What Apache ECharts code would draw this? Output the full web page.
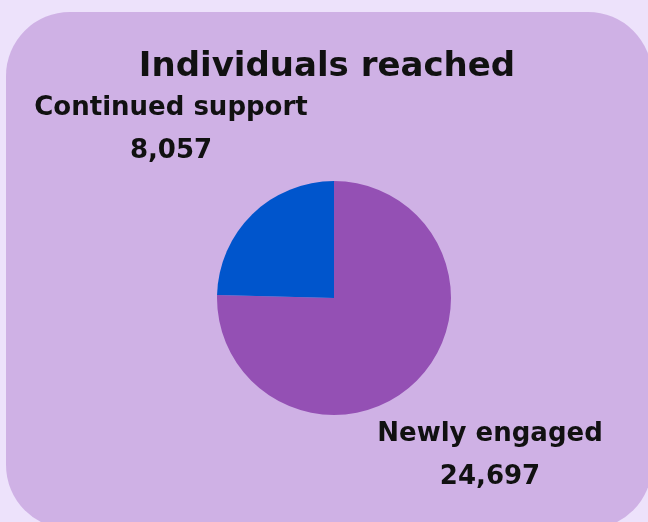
<!DOCTYPE html>
<html>
<head>
<meta charset="utf-8">
<script src="https://cdn.jsdelivr.net/npm/echarts@6/dist/echarts.min.js"></script>
<style>html,body{margin:0;padding:0;background:#ede2fb;}#c{width:648px;height:522px;}</style>
</head>
<body>
<div id="c"></div>
<script>
var titleText = 'Individuals reached';
var categories = ['Newly engaged', 'Continued support'];
var values = [24697, 8057];
var colors = ['#9450b4', '#0055cc'];
var labelPos = [[490, 456], [171, 130]];

function fmt(n) { return String(n).replace(/\B(?=(\d{3})+(?!\d))/g, ','); }

var chart = echarts.init(document.getElementById('c'), null, {renderer: 'canvas'});
chart.setOption({
  backgroundColor: '#ede2fb',
  animation: false,
  graphic: [{
    type: 'rect', z: -10, silent: true,
    shape: {x: 6, y: 12, width: 646, height: 517, r: 64},
    style: {fill: '#cfb1e5'}
  }],
  title: {
    text: titleText, left: 322, top: 45, textAlign: 'center',
    textStyle: {fontFamily: 'DejaVu Sans', fontWeight: 'bold', fontSize: 34, color: '#111'}
  },
  series: [{
    type: 'pie',
    center: [334, 298],
    radius: 117,
    startAngle: 90,
    clockwise: true,
    data: categories.map(function (c, i) { return {name: c, value: values[i], itemStyle: {color: colors[i]}}; }),
    label: {
      show: true,
      position: 'outside',
      overflow: 'none',
      formatter: function (p) { return '{a|' + p.name + '}\n{a|' + fmt(p.value) + '}'; },
      rich: {a: {fontFamily: 'DejaVu Sans', fontWeight: 'bold', fontSize: 26, color: '#111', lineHeight: 43, align: 'center'}}
    },
    labelLine: {show: false},
    labelLayout: function (params) {
      var p = labelPos[params.dataIndex];
      return {x: p[0], y: p[1], align: 'center', verticalAlign: 'middle'};
    }
  }]
});
</script>
</body>
</html>
